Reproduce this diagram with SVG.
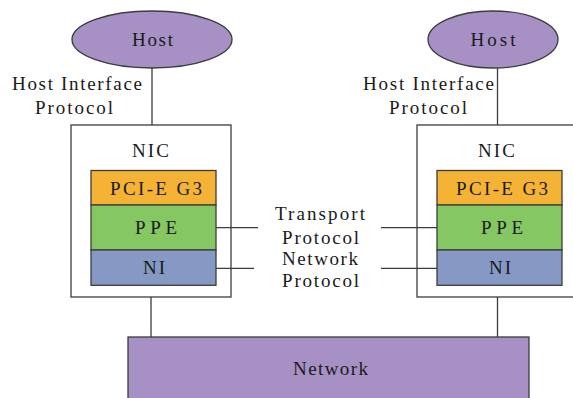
<svg xmlns="http://www.w3.org/2000/svg" width="573" height="398" viewBox="0 0 573 398">
<style>
.s{stroke:#3c3c3c;stroke-width:1.3}
.host{fill:#A690C4}
.nic{fill:#fff}
.pci{fill:#F5B335}
.ppe{fill:#85C763}
.ni{fill:#8599C4}
.net{fill:#A690C4}
.ln{stroke:#3c3c3c;stroke-width:1.3;fill:none}
text{font-family:"Liberation Serif","DejaVu Serif",serif;font-size:19px;fill:#1a1a1a;text-anchor:middle}
</style>
<rect width="573" height="398" fill="#fff"/>
<g id="host-left">
<ellipse class="s host" cx="152" cy="39.5" rx="80" ry="28.5"/>
<text x="152.5" y="46" textLength="41">Host</text>
</g>
<g id="host-right">
<ellipse class="s host" cx="493" cy="39.5" rx="65" ry="28.5"/>
<text x="493" y="46" textLength="45">Host</text>
</g>
<g id="label-hip-left">
<text x="77" y="90" textLength="130">Host Interface</text>
<text x="74" y="114" textLength="78">Protocol</text>
</g>
<g id="label-hip-right">
<text x="428.5" y="90" textLength="131">Host Interface</text>
<text x="428" y="114" textLength="78">Protocol</text>
</g>
<g id="nic-left">
<rect class="s nic" x="71" y="125" width="160" height="172"/>
<text x="150.5" y="157" textLength="37">NIC</text>
<g id="pci-left"><rect class="s pci" x="91" y="170.5" width="125" height="34.5"/><text x="156" y="195" textLength="92">PCI-E G3</text></g>
<g id="ppe-left"><rect class="s ppe" x="91" y="205" width="125" height="45"/><text x="156" y="234" textLength="42">PPE</text></g>
<g id="ni-left"><rect class="s ni" x="91" y="250" width="125" height="35.3"/><text x="154" y="274" textLength="22">NI</text></g>
</g>
<g id="nic-right">
<rect class="s nic" x="417" y="125" width="170" height="172"/>
<text x="496.5" y="157" textLength="37">NIC</text>
<g id="pci-right"><rect class="s pci" x="437" y="170.5" width="125" height="34.5"/><text x="502" y="195" textLength="92">PCI-E G3</text></g>
<g id="ppe-right"><rect class="s ppe" x="437" y="205" width="125" height="45"/><text x="502" y="234" textLength="42">PPE</text></g>
<g id="ni-right"><rect class="s ni" x="437" y="250" width="125" height="35.3"/><text x="500" y="274" textLength="22">NI</text></g>
</g>
<g id="label-transport">
<text x="320" y="220" textLength="90">Transport</text>
<text x="320.5" y="244" textLength="77">Protocol</text>
</g>
<g id="label-network">
<text x="320" y="265" textLength="76">Network</text>
<text x="320.5" y="287" textLength="77">Protocol</text>
</g>
<g id="network">
<rect class="s net" x="128" y="337" width="401" height="80"/>
<text x="330.5" y="375" textLength="75">Network</text>
</g>
<g id="connectors">
<line class="ln" x1="152" y1="68" x2="152" y2="125"/>
<line class="ln" x1="497.5" y1="68" x2="497.5" y2="125"/>
<line class="ln" x1="216" y1="227.7" x2="258" y2="227.7"/>
<line class="ln" x1="216" y1="268.3" x2="254" y2="268.3"/>
<line class="ln" x1="381" y1="227.7" x2="437" y2="227.7"/>
<line class="ln" x1="381" y1="268.3" x2="437" y2="268.3"/>
<line class="ln" x1="151" y1="297" x2="151" y2="337"/>
<line class="ln" x1="497.5" y1="297" x2="497.5" y2="337"/>
</g>
</svg>
